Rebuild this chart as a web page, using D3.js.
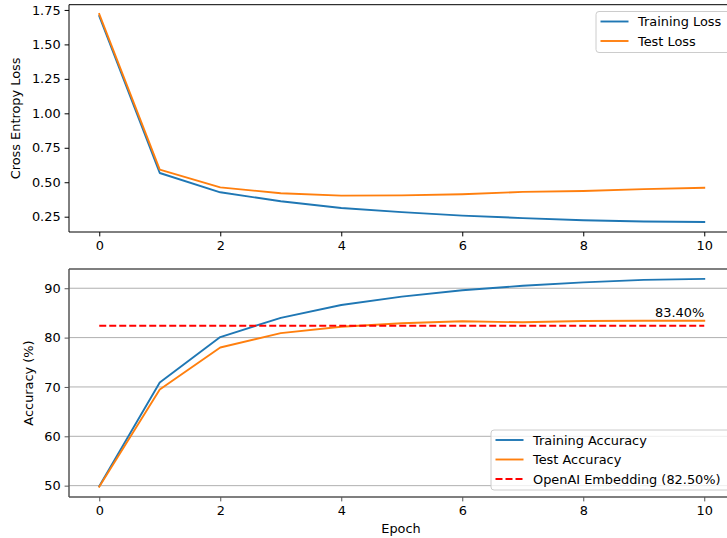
<!DOCTYPE html>
<html>
<head>
<meta charset="utf-8">
<script src="https://cdn.jsdelivr.net/npm/d3@7"></script>
<style>
  body { margin: 0; background: #fff; }
  svg { display: block; }
  text { font-family: "DejaVu Sans", sans-serif; fill: #000; }
</style>
</head>
<body>
<svg id="chart" width="727" height="538"></svg>
<script>
// ---------- data ----------
const epochs = [0, 1, 2, 3, 4, 5, 6, 7, 8, 9, 10];
const trainLoss = [1.706, 0.567, 0.427, 0.362, 0.313, 0.283, 0.258, 0.240, 0.224, 0.215, 0.212];
const testLoss  = [1.720, 0.591, 0.463, 0.420, 0.403, 0.405, 0.413, 0.430, 0.436, 0.450, 0.460];
const trainAcc  = [49.9, 70.9, 80.1, 84.0, 86.6, 88.3, 89.6, 90.5, 91.2, 91.7, 91.9];
const testAcc   = [49.8, 69.5, 78.0, 80.9, 82.2, 82.9, 83.3, 83.1, 83.35, 83.4, 83.4];
const baselineAcc = 82.4;
const baselineLabel = "OpenAI Embedding (82.50%)";
const finalLabel = "83.40%";
const xTicks = [0, 2, 4, 6, 8, 10];
const lossTicks = [0.25, 0.50, 0.75, 1.00, 1.25, 1.50, 1.75];
const accTicks = [50, 60, 70, 80, 90];

// ---------- layout ----------
const svg = d3.select("#chart");
const FS = 12.9;
const blue = "#1f77b4", orange = "#ff7f0e";
const LW = 1.9;

const x = d3.scaleLinear().domain([-0.5, 10.5]).range([69, 734.5]);
const topY = d3.scaleLinear().domain([0.139, 1.788]).range([232, 4.7]);
const botY = d3.scaleLinear().domain([47.7, 93.9]).range([497, 269]);

function drawAxes(g, yScale, yTickVals, yFmt, spineColor, spineW) {
  const [y0, y1] = yScale.range();
  const [x0, x1] = x.range();
  const xa = g.append("g").attr("transform", `translate(0,${y0})`)
    .call(d3.axisBottom(x).tickValues(xTicks).tickFormat(d3.format("d")).tickSizeOuter(0).tickSize(4.4).tickPadding(4));
  const ya = g.append("g").attr("transform", `translate(${x0},0)`)
    .call(d3.axisLeft(yScale).tickValues(yTickVals).tickFormat(yFmt).tickSizeOuter(0).tickSize(4.4).tickPadding(4));
  [xa, ya].forEach(a => {
    a.select(".domain").remove();
    a.selectAll("line").attr("stroke", spineColor).attr("stroke-width", 1);
    a.selectAll("text").attr("font-size", FS).attr("fill", "#000")
      .style("font-family", "'DejaVu Sans', sans-serif");
  });
  const sp = g.append("g").attr("fill", "none").attr("stroke", spineColor).attr("stroke-width", spineW);
  sp.append("line").attr("x1", x0).attr("x2", x1).attr("y1", y0).attr("y2", y0);
  sp.append("line").attr("x1", x0).attr("x2", x1).attr("y1", y1).attr("y2", y1);
  sp.append("line").attr("x1", x0).attr("x2", x0).attr("y1", y0).attr("y2", y1);
  sp.append("line").attr("x1", x1).attr("x2", x1).attr("y1", y0).attr("y2", y1);
}

function drawLine(g, yScale, vals, color) {
  const line = d3.line().x((d, i) => x(epochs[i])).y(d => yScale(d));
  return g.append("path").datum(vals).attr("d", line)
    .attr("fill", "none").attr("stroke", color).attr("stroke-width", LW)
    .attr("stroke-linejoin", "round").attr("stroke-linecap", "square");
}

function legend(g, x0, y0, w, h, items) {
  g.append("rect").attr("x", x0).attr("y", y0).attr("width", w).attr("height", h)
    .attr("rx", 3).attr("fill", "#fff").attr("fill-opacity", 0.8)
    .attr("stroke", "#cccccc").attr("stroke-width", 1);
  items.forEach((it, i) => {
    const cy = y0 + 10 + i * 19.5;
    const l = g.append("line").attr("x1", x0 + 4.5).attr("x2", x0 + 32.5)
      .attr("y1", cy).attr("y2", cy).attr("stroke", it.color).attr("stroke-width", LW);
    if (it.dash) l.attr("stroke-dasharray", it.dash);
    g.append("text").attr("x", x0 + 42).attr("y", cy).attr("dy", "0.36em")
      .attr("font-size", FS).text(it.label);
  });
}

// ---------- top panel ----------
const gt = svg.append("g");
drawLine(gt, topY, trainLoss, blue);
drawLine(gt, topY, testLoss, orange);
drawAxes(gt, topY, lossTicks, d3.format(".2f"), "#000", 1);
gt.append("text").attr("transform", `translate(19.5,118.4) rotate(-90)`)
  .attr("text-anchor", "middle").attr("font-size", FS).text("Cross Entropy Loss");
legend(gt, 596, 11.5, 140, 41, [
  { label: "Training Loss", color: blue },
  { label: "Test Loss", color: orange }
]);

// ---------- bottom panel ----------
const gb = svg.append("g");
const [bx0, bx1] = x.range();
gb.append("g").selectAll("line").data(accTicks).join("line")
  .attr("x1", bx0).attr("x2", bx1)
  .attr("y1", d => botY(d)).attr("y2", d => botY(d))
  .attr("stroke", "#b0b0b0").attr("stroke-width", 1);
drawLine(gb, botY, trainAcc, blue);
drawLine(gb, botY, testAcc, orange);
gb.append("line")
  .attr("x1", x(epochs[0])).attr("x2", x(epochs[epochs.length - 1]))
  .attr("y1", botY(baselineAcc)).attr("y2", botY(baselineAcc))
  .attr("stroke", "red").attr("stroke-width", LW).attr("stroke-dasharray", "7,3");
gb.append("text").attr("x", x(10)).attr("y", botY(testAcc[testAcc.length - 1]) - 4)
  .attr("text-anchor", "end").attr("font-size", FS).text(finalLabel);
drawAxes(gb, botY, accTicks, d3.format("d"), "#555", 1.5);
gb.append("text").attr("transform", `translate(32.5,383) rotate(-90)`)
  .attr("text-anchor", "middle").attr("font-size", FS).text("Accuracy (%)");
gb.append("text").attr("x", 401).attr("y", 533)
  .attr("text-anchor", "middle").attr("font-size", FS).text("Epoch");
legend(gb, 491, 430, 245, 60, [
  { label: "Training Accuracy", color: blue },
  { label: "Test Accuracy", color: orange },
  { label: baselineLabel, color: "red", dash: "7,3" }
]);
</script>
</body>
</html>
